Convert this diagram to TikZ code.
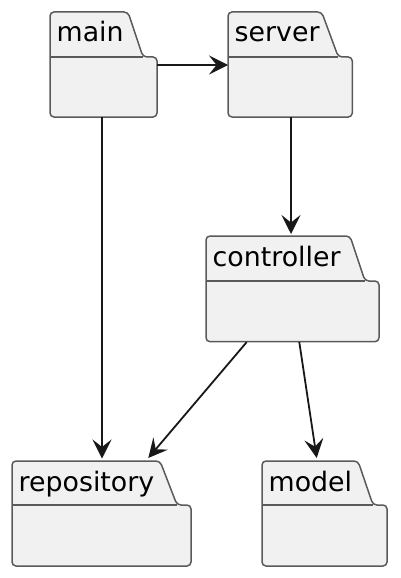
\documentclass[tikz,border=0pt]{standalone}
\usepackage{fontspec}
\setmainfont{DejaVu Sans}
\usetikzlibrary{arrows.meta,calc}
\definecolor{pkgfill}{HTML}{F1F1F1}
\definecolor{pkgline}{HTML}{5A5A5A}
\definecolor{arrowcol}{HTML}{181818}
\tikzset{
  pkgshape/.style={draw=pkgline, fill=pkgfill, line width=1.5pt, rounded corners=4pt, line join=round},
  pkgsep/.style={draw=pkgline, line width=1.5pt},
  pkglabel/.style={anchor=base west, inner sep=0pt, font=\fontsize{26.8}{30}\selectfont, text=black},
  bodybox/.style={inner sep=0pt, anchor=north west},
  dep/.style={draw=arrowcol, line width=1.8pt, -{Stealth[length=19pt, width=19pt, inset=7.5pt]}},
}
% name, L, T, tabR, slantX, mid, R, B, label
\newcommand\umlpkg[9]{%
  \path[pkgshape] (#2,#8) -- (#2,#3) -- (#4,#3) -- (#5,#6) -- (#7,#6) -- (#7,#8) -- cycle;
  \draw[pkgsep] (#2,#6) -- (#5,#6);
  \node[bodybox, minimum width={(#7-#2)*1pt}, minimum height={(#8-#3)*1pt}] (#1) at (#2,#3) {};
  \node[bodybox, minimum width={(#7-#2)*1pt}, minimum height={(#8-#6)*1pt}] (#1b) at (#2,#6) {};
  \node[pkglabel] (#1t) at ({#2+6.5},{#3+30}) {#9};
}
\begin{document}
\begin{tikzpicture}[x=1pt,y=-1pt]
\useasboundingbox (0,0) rectangle (400,578);
\umlpkg{main}{50}{12}{128}{143}{57}{157}{117}{main}
\umlpkg{server}{228}{12}{321.7}{338.3}{57}{352.3}{117}{server}
\umlpkg{ctrl}{206}{236}{350}{365}{281}{379}{341.7}{controller}
\umlpkg{repo}{12}{461}{160}{177}{505}{191}{566}{repository}
\umlpkg{model}{262}{461}{358}{373}{505}{387}{566}{model}

\draw[dep] ($(mainb.north east)+(0,8)$) -- ($(serverb.north west)+(0,8)$);
\draw[dep, shorten >=2.5pt] ($(mainb.south west)+(52,0)$) -- ($(repo.north west)+(90,0)$);
\draw[dep, shorten >=2pt] ($(serverb.south west)+(63,0)$) -- ($(ctrl.north west)+(85,0)$);
\draw[dep] ($(ctrlb.south west)+(40.7,0)$) -- ($(repo.north west)+(136.3,-3)$);
\draw[dep] ($(ctrlb.south west)+(93.3,0)$) -- ($(model.north west)+(54.7,-3)$);
\end{tikzpicture}
\end{document}
